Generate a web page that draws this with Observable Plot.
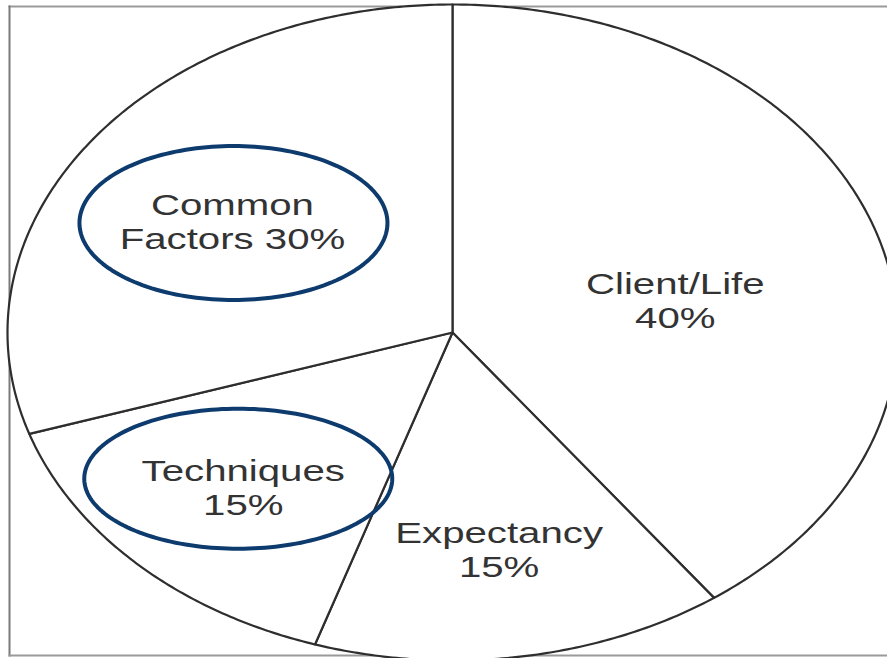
<!DOCTYPE html>
<html><head><meta charset="utf-8">
<script src="https://cdn.jsdelivr.net/npm/d3@7"></script>
<script src="https://cdn.jsdelivr.net/npm/@observablehq/plot@0.6"></script>
<style>
html,body{margin:0;padding:0;background:#fff;overflow:hidden}
#chart svg{overflow:hidden;display:block}
</style></head><body><div id="chart"></div>
<script>
// ---- data ----
const categories = ["Client/Life", "Expectancy", "Techniques", "Common Factors"];
const shares = [40, 15, 15, 30];
const labelTexts = ["Client/Life\n40%", "Expectancy\n15%", "Techniques\n15%", "Common\nFactors 30%"];
const highlighted = ["Common Factors", "Techniques"];

// ---- layout (not data) ----
const labelRadius = {"Client/Life": 0.51, "Expectancy": 0.67, "Techniques": 0.665, "Common Factors": 0.6};
const labelTurnDeg = {"Client/Life": 7, "Expectancy": 0, "Techniques": 0, "Common Factors": -1.5};
const ringStyle = {"Common Factors": {dx: 1, dy: 2, rx: 154, ry: 77}, "Techniques": {dx: -5, dy: -8, rx: 154, ry: 70}};
const W = 887, H = 658;
const cx = 452, cy = 332, rx = 445, ry = 328;
const textStretch = 1.34;

const rows = categories.map((c, i) => ({category: c, share: shares[i], label: labelTexts[i]}));
const arcs = d3.pie().value(d => d.share).sort(null)(rows);
const pt = (a, r = 1) => [Math.sin(a) * r, -Math.cos(a) * r];

// slice outlines
const slicePts = [];
for (const a of arcs) {
  const c = a.data.category;
  slicePts.push({category: c, x: 0, y: 0});
  const n = Math.max(2, Math.ceil((a.endAngle - a.startAngle) / 0.01));
  for (let k = 0; k <= n; k++) {
    const t = a.startAngle + (a.endAngle - a.startAngle) * k / n;
    const [x, y] = pt(t);
    slicePts.push({category: c, x, y});
  }
  slicePts.push({category: c, x: 0, y: 0});
}

// labels
const labels = arcs.map(a => {
  const c = a.data.category;
  const m = (a.startAngle + a.endAngle) / 2 + labelTurnDeg[c] * Math.PI / 180;
  const [x, y] = pt(m, labelRadius[c]);
  return {category: c, label: a.data.label, x, y};
});

// highlight rings around highlighted labels
const ringPts = [];
for (const l of labels.filter(l => highlighted.includes(l.category))) {
  const s = ringStyle[l.category];
  const ox = l.x + s.dx / rx, oy = l.y + s.dy / ry;
  for (let k = 0; k <= 180; k++) {
    const t = 2 * Math.PI * k / 180;
    ringPts.push({category: l.category, x: ox + Math.cos(t) * s.rx / rx, y: oy + Math.sin(t) * s.ry / ry});
  }
}

const plot = Plot.plot({
  width: W, height: H,
  marginTop: 6, marginLeft: 9, marginBottom: 3, marginRight: -6,
  x: {domain: [-1, 1], range: [cx - rx, cx + rx], axis: null},
  y: {domain: [-1, 1], range: [cy - ry, cy + ry], axis: null},
  style: {background: "#fff", fontFamily: "'Liberation Sans', Arial, sans-serif"},
  marks: [
    Plot.frame({anchor: "top", stroke: "#9a9a9a", strokeWidth: 2}),
    Plot.frame({anchor: "left", stroke: "#7a7a7a", strokeWidth: 2}),
    Plot.frame({anchor: "bottom", stroke: "#9a9a9a", strokeWidth: 2}),
    Plot.line(slicePts, {x: "x", y: "y", z: "category", stroke: "#2e2e2e", strokeWidth: 2.2, fill: "white", strokeLinejoin: "round"}),
    Plot.line(ringPts, {x: "x", y: "y", z: "category", stroke: "#0e3b6e", strokeWidth: 4}),
    Plot.text(labels, {x: "x", y: "y", text: "label", fontSize: 30, lineHeight: 1.13, fill: "#333"})
  ]
});

d3.select(plot).selectAll("g[aria-label='text'] text").each(function() {
  const t = this.getAttribute("transform") || "";
  this.setAttribute("transform", t + ` scale(${textStretch},1)`);
});

document.getElementById("chart").append(plot);
</script></body></html>
